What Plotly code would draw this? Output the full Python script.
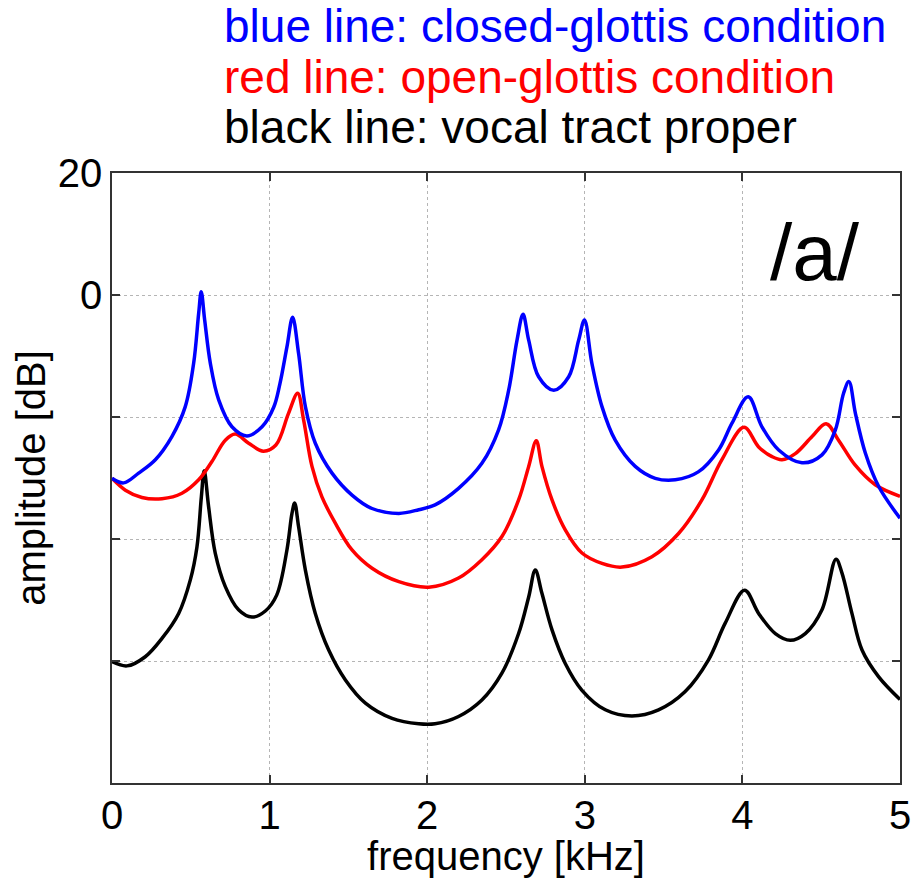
import plotly.graph_objects as go

# Frequency (kHz) / amplitude (dB)
blue_f = [0.0, 0.074, 0.169, 0.275, 0.38, 0.465, 0.518, 0.55, 0.566, 0.588, 0.624, 0.677, 0.761, 0.856,
          0.952, 1.026, 1.065, 1.11, 1.146, 1.184, 1.227, 1.29, 1.396, 1.523, 1.65, 1.82, 1.946, 2.05,
          2.199, 2.347, 2.453, 2.517, 2.57, 2.608, 2.644, 2.707, 2.803, 2.898, 2.961, 2.998, 3.045, 3.109,
          3.193, 3.32, 3.447, 3.574, 3.72, 3.849, 3.934, 4.037, 4.124, 4.23, 4.378, 4.505, 4.59, 4.642,
          4.676, 4.717, 4.78, 4.865, 5.0]
blue_db = [-30.05, -30.8, -29.2, -27.0, -23.2, -18.3, -11.2, -3.0, 0.55, -4.1, -11.2, -17.2, -21.6, -23.1,
           -21.6, -18.4, -14.6, -8.5, -3.66, -9.6, -18.3, -24.3, -29.2, -32.8, -35.0, -35.8, -35.2, -34.4,
           -31.7, -27.6, -22.1, -15.6, -7.4, -3.17, -7.4, -13.4, -15.6, -13.4, -7.4, -4.1, -11.2, -18.3,
           -23.8, -28.1, -30.05, -30.3, -29.0, -25.4, -21.0, -16.7, -21.6, -25.4, -27.5, -26.2, -22.1, -16.1,
           -14.2, -19.4, -25.9, -31.4, -36.6]

red_f = [0.0, 0.085, 0.19, 0.317, 0.444, 0.55, 0.634, 0.719, 0.782, 0.867, 0.96, 1.04, 1.12,
         1.178, 1.216, 1.269, 1.332, 1.417, 1.523, 1.65, 1.82, 2.01, 2.199, 2.347, 2.474, 2.58, 2.644,
         2.692, 2.728, 2.792, 2.876, 2.982, 3.109, 3.236, 3.426, 3.595, 3.743, 3.87, 4.01, 4.103, 4.188,
         4.251, 4.336, 4.442, 4.531, 4.61, 4.716, 4.843, 5.0]
red_db = [-30.05, -32.0, -33.2, -33.4, -32.5, -30.3, -27.3, -23.8, -22.8, -24.3, -25.6, -24.6, -19.4,
          -16.1, -20.5, -28.1, -33.1, -37.4, -41.8, -44.8, -47.0, -47.9, -46.4, -43.4, -39.6, -33.6, -28.1,
          -23.9, -28.1, -33.6, -38.5, -42.3, -44.0, -44.6, -42.9, -39.1, -33.6, -27.0, -21.7, -24.9, -26.5,
          -27.0, -26.0, -23.2, -21.1, -23.8, -27.9, -31.1, -33.0]

black_f = [0.0, 0.095, 0.211, 0.317, 0.423, 0.497, 0.539, 0.567, 0.585, 0.613, 0.655, 0.719, 0.803, 0.888,
           0.973, 1.045, 1.11, 1.142, 1.159, 1.184, 1.227, 1.29, 1.375, 1.481, 1.608, 1.777, 1.946,
           2.05, 2.199, 2.347, 2.474, 2.58, 2.644, 2.686, 2.728, 2.792, 2.876, 2.982, 3.13, 3.299, 3.468,
           3.637, 3.785, 3.891, 4.014, 4.103, 4.209, 4.304, 4.399, 4.505, 4.594, 4.632, 4.695, 4.759, 4.865,
           5.0]
black_db = [-60.1, -60.8, -59.3, -56.3, -52.2, -46.7, -41.3, -33.1, -28.8, -34.7, -42.3, -47.8, -51.6, -52.8,
            -51.8, -49.2, -41.8, -35.8, -34.1, -38.0, -45.1, -52.2, -58.2, -63.1, -66.9, -69.4, -70.3,
            -70.3, -69.1, -66.4, -62.0, -55.5, -49.5, -45.1, -48.9, -54.9, -60.4, -64.8, -68.0, -69.0, -68.0,
            -65.0, -59.8, -53.8, -48.4, -52.2, -55.5, -56.6, -55.5, -51.6, -43.3, -45.6, -52.2, -58.2, -62.6,
            -66.3]

x_ticks = [0, 1, 2, 3, 4, 5]
y_ticks = [-80, -60, -40, -20, 0, 20]
y_tick_text = ["", "", "", "", "0", "20"]

legend_lines = [
    ("blue line: closed-glottis condition", "#0000ff"),
    ("red line: open-glottis condition", "#ff0000"),
    ("black line: vocal tract proper", "#000000"),
]

FONT = "Liberation Sans, Arial, sans-serif"

fig = go.Figure()
for f, db, col in [(black_f, black_db, "#000000"), (red_f, red_db, "#ff0000"), (blue_f, blue_db, "#0000ff")]:
    fig.add_trace(go.Scatter(x=f, y=db, mode="lines",
                             line=dict(color=col, width=3.5, shape="spline", smoothing=1.0),
                             showlegend=False, hoverinfo="skip"))

axis_common = dict(showline=True, linecolor="#333333", linewidth=1.5, mirror="allticks",
                   ticks="inside", ticklen=8, tickwidth=1.5, tickcolor="#333333",
                   showgrid=True, gridcolor="#b5b5b5", gridwidth=1, griddash="dot",
                   zeroline=False, automargin=False,
                   tickfont=dict(family=FONT, size=40, color="#000000"))

fig.update_xaxes(range=[0, 5], tickvals=x_ticks, ticktext=[str(v) for v in x_ticks], ticklabelstandoff=-4,
                 title=dict(text="frequency [kHz]", font=dict(family=FONT, size=40, color="#000000"), standoff=4),
                 **axis_common)
fig.update_yaxes(range=[-80, 20], tickvals=y_ticks, ticktext=y_tick_text,
                 title=dict(text="amplitude [dB]", font=dict(family=FONT, size=40, color="#000000"), standoff=0),
                 **axis_common)

ann = []
y_pos = [1.241, 1.158, 1.075]
for (txt, col), yp in zip(legend_lines, y_pos):
    ann.append(dict(text=txt, xref="paper", yref="paper", x=0.1396, y=yp, xanchor="left", yanchor="middle",
                    showarrow=False, font=dict(family=FONT, size=46, color=col)))
ann.append(dict(text="/a/", xref="paper", yref="paper", x=0.892, y=0.87, xanchor="center", yanchor="middle",
                showarrow=False, font=dict(family=FONT, size=80, color="#000000")))

fig.update_layout(width=912, height=878, margin=dict(l=112, r=12, t=173, b=95),
                  paper_bgcolor="white", plot_bgcolor="white", annotations=ann,
                  font=dict(family=FONT))

fig.write_html("out.html")
